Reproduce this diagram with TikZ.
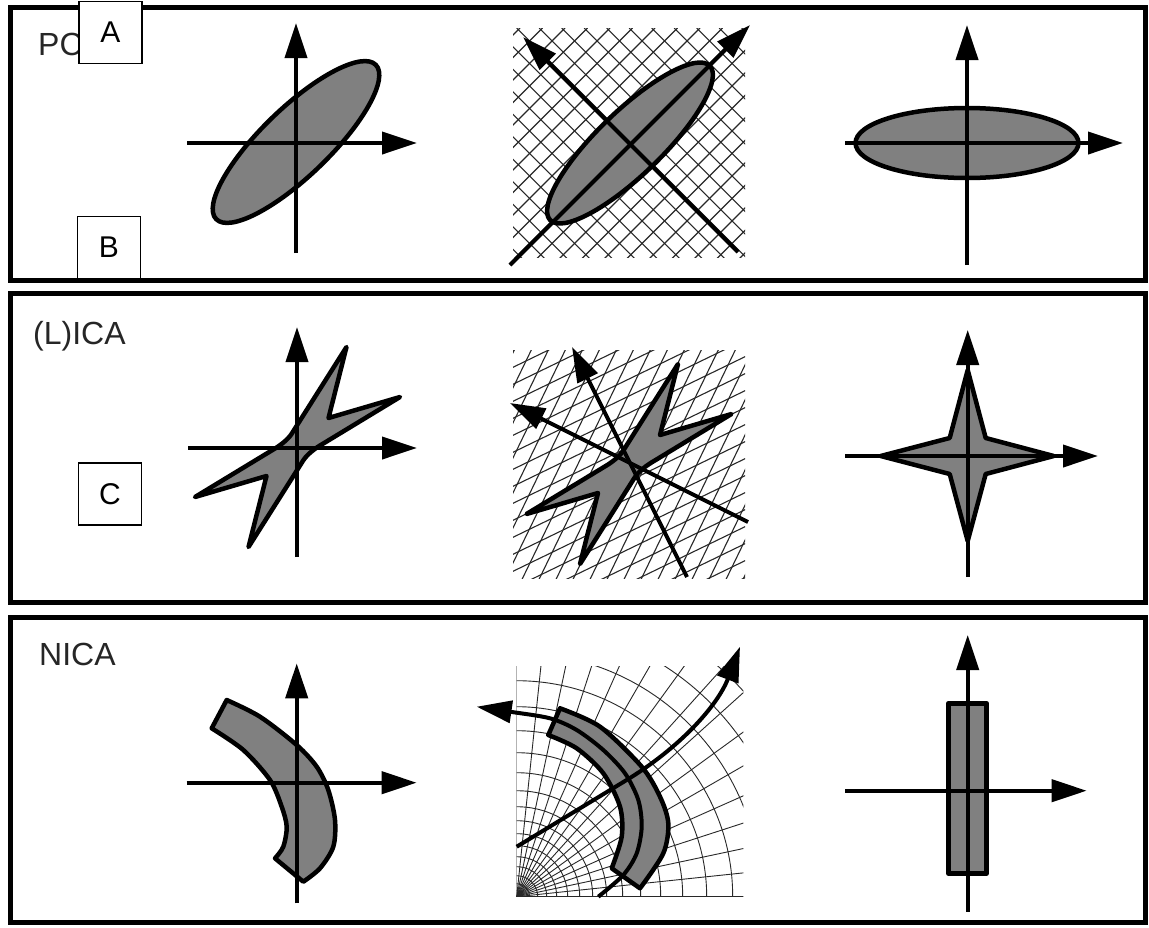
\documentclass[tikz,border=0pt]{standalone}
\usepackage{fontspec}
\setmainfont{Liberation Sans}
\usetikzlibrary{arrows.meta}
\definecolor{shadegray}{RGB}{128,128,128}
\definecolor{gridgray}{RGB}{40,40,40}
\begin{document}
\begin{tikzpicture}[x=1pt,y=-1pt,
  panel/.style={line width=5pt},
  axis/.style={line width=4pt, -{Triangle[length=35pt,width=22pt]}},
  shapefill/.style={line width=4.5pt, fill=shadegray, line join=round},
  gridline/.style={line width=1.1pt, draw=gridgray},
  thingrid/.style={line width=0.9pt, draw=gridgray},
  lbl/.style={font=\fontsize{32}{38}\selectfont, text=black!85, anchor=base west, inner sep=0pt},
  tag/.style={draw, line width=1.5pt, fill=white, minimum width=63pt, minimum height=62pt, font=\fontsize{30}{36}\selectfont, inner sep=0pt}
]
\useasboundingbox (0,0) rectangle (1149,927);
\fill[white] (0,0) rectangle (1149,927);

% panels
\draw[panel] (10.5,7.5) rectangle (1145.5,280.5);
\draw[panel] (10.5,293.5) rectangle (1145.5,602.5);
\draw[panel] (10.5,617.5) rectangle (1145.5,922);

% titles
\node[lbl] (tpc) at (38,55) {PC};
\node[lbl] (tica) at (33,344) {(L)ICA};
\node[lbl] (tnica) at (39,665) {NICA};

% ===== PCA row =====
\draw[shapefill, rotate around={44:(296,142)}] (296,142) ellipse [x radius=111pt, y radius=34pt];
\draw[axis] (187,143) -- (417,143);
\draw[axis] (296,253) -- (296,23);

\begin{scope}
  \clip (513,28) rectangle (745,257);
  \foreach \k in {-12,...,12} {
    \draw[gridline] ({516.7+22.5*\k},28) -- ({516.7+22.5*\k+300},328);
    \draw[gridline] ({745+22.5*\k},28) -- ({745+22.5*\k-300},328);
  }
\end{scope}
\draw[shapefill, rotate around={44:(630,143)}] (630,143) ellipse [x radius=111pt, y radius=32pt];
\draw[axis] (510,265) -- (750,25);
\draw[axis] (738,252) -- (523,37);

\draw[shapefill] (967,143) ellipse [x radius=111.5pt, y radius=35pt];
\draw[axis] (845,143) -- (1123,143);
\draw[axis] (967,265) -- (967,25);

% ===== ICA row =====
\begin{scope}[shift={(297.5,447)}]
\draw[shapefill] (49,-100) -- (31,-29) -- (102.5,-50) -- (25,-3) .. controls (18,1) and (10,7) .. (6,13) -- (-49,100) -- (-31,29) -- (-102.5,50) -- (-25,3) .. controls (-18,-1) and (-10,-7) .. (-6,-13) -- cycle;
\end{scope}
\draw[axis] (188,448) -- (417,448);
\draw[axis] (297,557) -- (297,327);

\begin{scope}
  \clip (513,350) rectangle (745,578);
  \foreach \k in {-20,...,20} {
    \draw[gridline] ({629+17*\k-147},{464+303}) -- ({629+17*\k+147},{464-303});
    \draw[gridline] ({629-303},{464+17*\k+147}) -- ({629+303},{464+17*\k-147});
  }
\end{scope}
\begin{scope}[shift={(629,464)}]
\draw[shapefill] (49,-100) -- (31,-29) -- (102.5,-50) -- (25,-3) .. controls (18,1) and (10,7) .. (6,13) -- (-49,100) -- (-31,29) -- (-102.5,50) -- (-25,3) .. controls (-18,-1) and (-10,-7) .. (-6,-13) -- cycle;
\end{scope}
\draw[axis] (748,522) -- (510,403);
\draw[axis] (687,577) -- (572,347);

\begin{scope}[shift={(967.7,456)}]
\draw[shapefill] (0,-86) -- (18,-18) -- (86,0) -- (18,18) -- (0,85) -- (-18,18) -- (-87,0) -- (-18,-18) -- cycle;
\end{scope}
\draw[axis] (845,456) -- (1098,456);
\draw[axis] (967.7,577) -- (967.7,330);

% ===== NICA row =====
\draw[shapefill] plot[smooth] coordinates {(226.7,700) (260,716.7) (296.7,745) (316.7,766.7) (328.3,790) (335,820) (333.3,846.7) (320,868.3) (303.3,881.7)} -- plot[smooth] coordinates {(275,858.3) (283.3,846.7) (286.7,826.7) (281.7,806.7) (270,780) (243.3,750) (211.7,728.3)} -- cycle;
\draw[axis] (186.7,782.7) -- (416.7,782.7);
\draw[axis] (296.7,903.3) -- (296.7,663.3);

\begin{scope}
  \clip (516.7,666.7) rectangle (743.3,896.7);
  \foreach \a in {0,6,...,90} \draw[thingrid] (516.7,896.7) -- ++(\a:420pt);
  \foreach \r in {6,13,21,30,40,51,63,76,90,106,124,144,166,190,216,244,274,306}
    \draw[thingrid] (516.7,896.7) circle[radius=\r pt];
\end{scope}
\draw[shapefill] plot[smooth] coordinates {(560,708.3) (600,726.7) (641.7,766.7) (660,796.7) (668.3,823.3) (663.3,853.3) (640,888.3)} -- plot[smooth] coordinates {(611.7,868.3) (621.7,836.7) (620,806.7) (603.3,773.3) (576.7,748.3) (548.3,735)} -- cycle;
\draw[axis] plot[smooth] coordinates {(598.3,896.7) (623.3,875) (636.7,853.3) (641.7,826.7) (638.3,800) (625,773.3) (603.3,750) (576.7,730) (550,718.3) (510,711.7) (476.7,706.7)};
\draw[axis] (516.7,846.7) -- (625,781) .. controls (680,748) and (718,705) .. (740,646.7);

\draw[shapefill] (948.3,703.3) rectangle (986.7,873.3);
\draw[axis] (845,790.7) -- (1086.7,790.7);
\draw[axis] (967.7,911.7) -- (967.7,635);

% tags
\node[tag] (tagA) at (110.5,32.5) {A};
\node[tag] (tagB) at (109,247.5) {B};
\node[tag] (tagC) at (110,494) {C};
\end{tikzpicture}
\end{document}
